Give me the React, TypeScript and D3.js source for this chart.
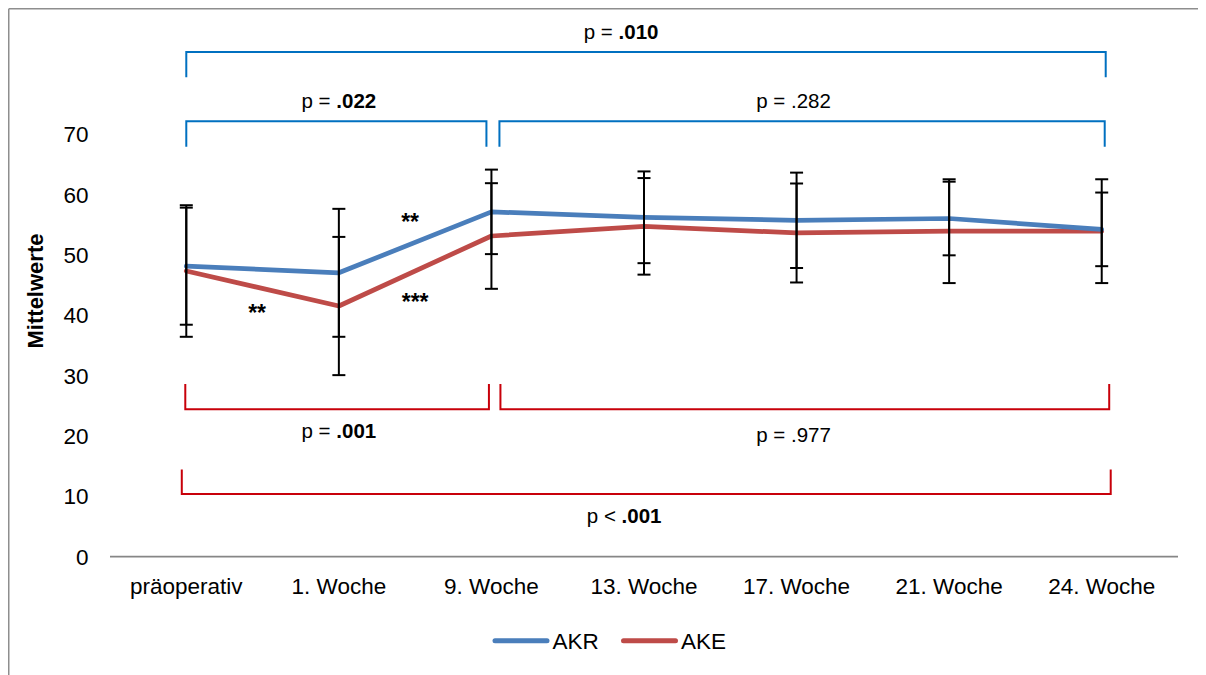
import React, { useEffect } from "react";
import * as d3 from "d3";

const categories = ["präoperativ", "1. Woche", "9. Woche", "13. Woche", "17. Woche", "21. Woche", "24. Woche"];
const akrMean = [48.1, 47.0, 57.1, 56.2, 55.7, 56.0, 54.2];
const akrSD = [9.7, 10.6, 7.0, 7.6, 7.9, 6.1, 6.1];
const akeMean = [47.3, 41.5, 53.1, 54.7, 53.6, 53.9, 53.9];
const akeSD = [10.9, 11.45, 8.75, 8.0, 8.2, 8.6, 8.6];
const yTicks = [0, 10, 20, 30, 40, 50, 60, 70];

// significance brackets
const blueBrackets = [
  { from: 0, to: 6, level: 83.6, leg: 79.4, pre: "p = ", bold: ".010", lx: 2.85, ly: 86.9 },
  { from: 0, to: 2, level: 72.1, leg: 67.9, pre: "p = ", bold: ".022", lx: 1.0, ly: 75.6 },
  { from: 2, to: 6, level: 72.1, leg: 67.9, pre: "p = .282", bold: "", lx: 3.98, ly: 75.6 },
];
const redBrackets = [
  { from: 0, to: 2, level: 24.4, leg: 28.6, pre: "p = ", bold: ".001", lx: 1.0, ly: 20.9 },
  { from: 2, to: 6, level: 24.4, leg: 28.6, pre: "p = .977", bold: "", lx: 3.98, ly: 20.2 },
  { from: 0, to: 6, level: 10.35, leg: 14.4, pre: "p < ", bold: ".001", lx: 2.87, ly: 6.8 },
];
const asterisks = [
  { text: "**", pos: 1.467, value: 56.3 },
  { text: "**", pos: 0.464, value: 41.1 },
  { text: "***", pos: 1.5, value: 43.0 },
];

const BLUE = "#4A7EBB";
const RED = "#BE4B48";
const BR_BLUE = "#0070C0";
const BR_RED = "#C8000A";
const FONT = "'Liberation Sans', Arial, sans-serif";

export default function App() {
  useEffect(() => {
    document.documentElement.style.overflow = "hidden";
    document.body.style.overflow = "hidden";
  }, []);

  const W = 1198, H = 667;
  const xBand = d3.scaleBand<string>().domain(categories).range([110, 1178]).padding(0);
  const bw = xBand.bandwidth();
  const xc = (i: number) => (xBand(categories[0]) as number) + bw / 2 + i * bw;
  const y = d3.scaleLinear().domain([0, 70]).range([556.5, 134]);

  const line = d3
    .line<number>()
    .x((_, i) => xc(i))
    .y((d) => y(d));

  const series = [
    { name: "AKE", mean: akeMean, sd: akeSD, color: RED },
    { name: "AKR", mean: akrMean, sd: akrSD, color: BLUE },
  ];

  const bracketOffsets = (b: any, isBlue: boolean) => {
    let x1 = xc(b.from), x2 = xc(b.to);
    if (isBlue) {
      if (b.from === 2) x1 += 8;
      if (b.to === 2) x2 -= 5;
      if (b.to === 6) x2 += b.from === 0 ? 4 : 3;
    } else {
      if (b.from === 2) x1 += 9;
      if (b.to === 2) x2 -= 2.5;
      if (b.to === 6) x2 += b.from === 0 ? 9 : 7.5;
      if (b.from === 0 && b.to === 6) x1 -= 4.5;
      else if (b.from === 0) x1 -= 1;
    }
    return [x1, x2];
  };

  const pText = (b: any, key: string) => (
    <text
      key={key}
      x={xc(b.lx)}
      y={y(b.ly) + 7.5}
      textAnchor="middle"
      fontSize={20.5}
      fontFamily={FONT}
      fill="#000"
    >
      <tspan>{b.pre}</tspan>
      {b.bold ? <tspan fontWeight="bold">{b.bold}</tspan> : null}
    </text>
  );

  return (
    <svg width={W} height={H} style={{ display: "block", overflow: "visible" }}>
      <g transform="translate(-8,-8)">
        <rect x={0} y={0} width={1214} height={683} fill="#fff" />
        {/* chart area border (top and left visible) */}
        <line x1={8.75} y1={8.75} x2={1214} y2={8.75} stroke="#8E8E8E" strokeWidth={1.5} />
        <line x1={8.75} y1={8.75} x2={8.75} y2={683} stroke="#8E8E8E" strokeWidth={1.5} />

        {/* y tick labels */}
        {yTicks.map((t) => (
          <text key={t} x={88.5} y={y(t) + 8.2} textAnchor="end" fontSize={22.5} fontFamily={FONT} fill="#000">
            {t}
          </text>
        ))}
        <text
          transform={`translate(43,291) rotate(-90)`}
          textAnchor="middle"
          fontSize={22}
          fontWeight="bold"
          fontFamily={FONT}
          fill="#000"
        >
          Mittelwerte
        </text>

        {/* x axis */}
        <line x1={110} x2={1178} y1={y(0)} y2={y(0)} stroke="#868686" strokeWidth={1.75} />
        {categories.map((c, i) => (
          <text key={c} x={xc(i)} y={593.5} textAnchor="middle" fontSize={22.5} fontFamily={FONT} fill="#000">
            {c}
          </text>
        ))}

        {/* blue brackets */}
        {blueBrackets.map((b, k) => {
          const [x1, x2] = bracketOffsets(b, true);
          return (
            <g key={"bb" + k}>
              <path
                d={`M${x1},${y(b.leg)}V${y(b.level)}H${x2}V${y(b.leg)}`}
                fill="none"
                stroke={BR_BLUE}
                strokeWidth={2}
              />
              {pText(b, "bt" + k)}
            </g>
          );
        })}
        {/* red brackets */}
        {redBrackets.map((b, k) => {
          const [x1, x2] = bracketOffsets(b, false);
          return (
            <g key={"rb" + k}>
              <path
                d={`M${x1},${y(b.leg)}V${y(b.level)}H${x2}V${y(b.leg)}`}
                fill="none"
                stroke={BR_RED}
                strokeWidth={2}
              />
              {pText(b, "rt" + k)}
            </g>
          );
        })}

        {/* lines */}
        {series.map((s) => (
          <path
            key={s.name}
            d={line(s.mean) as string}
            fill="none"
            stroke={s.color}
            strokeWidth={4.75}
            strokeLinejoin="round"
            strokeLinecap="round"
          />
        ))}

        {/* error bars */}
        {series.map((s) =>
          s.mean.map((m, i) => {
            const cx = xc(i);
            const top = y(m + s.sd[i]);
            const bot = y(m - s.sd[i]);
            return (
              <g key={s.name + i} stroke="#000" strokeWidth={2}>
                <line x1={cx} x2={cx} y1={top} y2={bot} />
                <line x1={cx - 6.5} x2={cx + 6.5} y1={top} y2={top} />
                <line x1={cx - 6.5} x2={cx + 6.5} y1={bot} y2={bot} />
              </g>
            );
          })
        )}

        {/* significance asterisks */}
        {asterisks.map((a, k) => (
          <text
            key={"ast" + k}
            x={xc(a.pos)}
            y={y(a.value) + 13}
            textAnchor="middle"
            fontSize={23}
            fontWeight="bold"
            fontFamily={FONT}
            fill="#000"
          >
            {a.text}
          </text>
        ))}

        {/* legend */}
        {[
          { name: "AKR", color: BLUE, x: 495 },
          { name: "AKE", color: RED, x: 623.5 },
        ].map((l) => (
          <g key={l.name}>
            <line x1={l.x} x2={l.x + 52} y1={640.7} y2={640.7} stroke={l.color} strokeWidth={5} strokeLinecap="round" />
            <text x={l.x + 57.5} y={648.5} fontSize={22.5} fontFamily={FONT} fill="#000">
              {l.name}
            </text>
          </g>
        ))}
      </g>
    </svg>
  );
}
